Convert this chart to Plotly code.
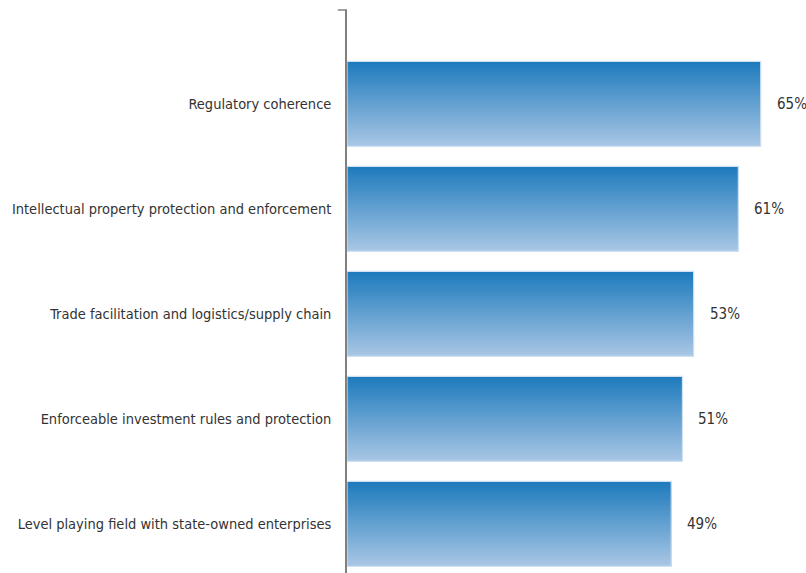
import plotly.graph_objects as go

categories = [
    "Regulatory coherence",
    "Intellectual property protection and enforcement",
    "Trade facilitation and logistics/supply chain",
    "Enforceable investment rules and protection",
    "Level playing field with state-owned enterprises",
]
values = [65, 61, 53, 51, 49]
value_labels = ["65%", "61%", "53%", "51%", "49%"]

AXIS_START = -9.0
X_END = 73.1
BAR_W = 0.81
N_STRIPES = 40
TOP_RGB = (30, 123, 189)
BOT_RGB = (168, 198, 228)
FONT = "Liberation Sans Narrow, DejaVu Sans Condensed, sans-serif"

# bars are drawn from the axis start (base) up to each value
bar_lengths = [v - AXIS_START for v in values]

fig = go.Figure()

for k in range(N_STRIPES):
    t = k / (N_STRIPES - 1)
    r = round(TOP_RGB[0] + (BOT_RGB[0] - TOP_RGB[0]) * t)
    g = round(TOP_RGB[1] + (BOT_RGB[1] - TOP_RGB[1]) * t)
    b = round(TOP_RGB[2] + (BOT_RGB[2] - TOP_RGB[2]) * t)
    off = -BAR_W / 2 + k * BAR_W / N_STRIPES
    fig.add_trace(go.Bar(
        x=bar_lengths, y=categories, orientation="h",
        base=AXIS_START,
        width=BAR_W - k * BAR_W / N_STRIPES,
        offset=off,
        marker=dict(color=f"rgb({r},{g},{b})", line=dict(width=0)),
        hoverinfo="skip", showlegend=False,
    ))

# light border
fig.add_trace(go.Bar(
    x=bar_lengths, y=categories, orientation="h",
    base=AXIS_START, width=BAR_W, offset=-BAR_W / 2,
    marker=dict(color="rgba(0,0,0,0)", line=dict(color="#cfe1f1", width=1.2)),
    hoverinfo="skip", showlegend=False,
))

for c, v, lab in zip(categories, values, value_labels):
    fig.add_annotation(
        x=v, y=c, text=lab, showarrow=False, xanchor="left", xshift=14,
        font=dict(family=FONT, size=15, color="#333333"),
    )

# small tick at top of the axis
fig.add_shape(type="line", xref="paper", yref="paper", x0=-0.02, x1=0, y0=1, y1=1,
              line=dict(color="#808080", width=1.5))

fig.update_layout(
    width=806, height=573,
    margin=dict(l=347, r=0, t=10, b=0, autoexpand=False),
    paper_bgcolor="white", plot_bgcolor="white",
    barmode="overlay",
    font=dict(family=FONT, size=14.5, color="#333333"),
    xaxis=dict(range=[AXIS_START, X_END], visible=False, showgrid=False, zeroline=False,
               fixedrange=True, automargin=False),
    yaxis=dict(
        categoryorder="array", categoryarray=categories,
        range=[4.468, -0.894],
        showline=True, linecolor="#808080", linewidth=1.5,
        ticks="", showgrid=False, zeroline=False, automargin=False,
        ticklabelstandoff=11,
    ),
)

fig.write_html("out.html")
